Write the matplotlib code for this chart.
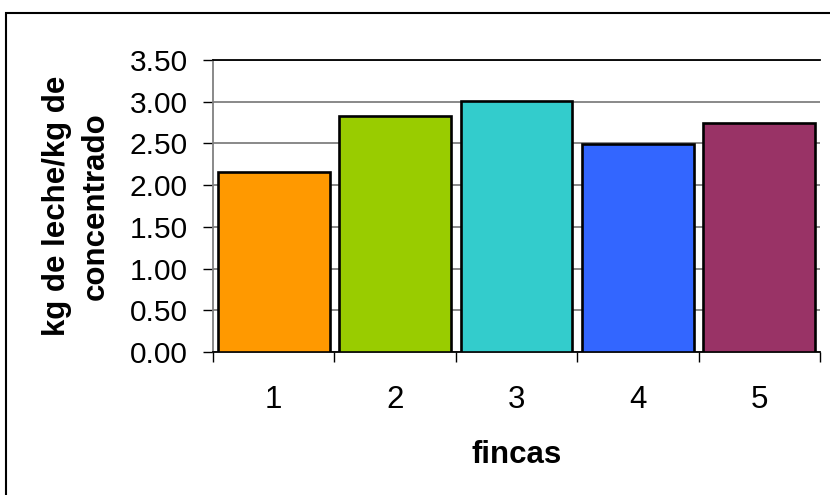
import numpy as np
import matplotlib
matplotlib.use("Agg")
from matplotlib import pyplot as plt
from matplotlib.patches import Rectangle

# datos
fincas = ["1", "2", "3", "4", "5"]
valores = [2.16, 2.83, 3.01, 2.49, 2.74]
colores = ["#FF9900", "#99CC00", "#33CCCC", "#3366FF", "#993366"]
yticks = [0.0, 0.5, 1.0, 1.5, 2.0, 2.5, 3.0, 3.5]

plt.rcParams['font.family'] = ['Liberation Sans', 'DejaVu Sans']

fig = plt.figure(figsize=(8.3, 4.95), dpi=100)
ax = fig.add_axes([0.2566, 0.2889, 0.988 - 0.2566, 0.8788 - 0.2889])

x = np.arange(len(fincas))
ax.bar(x, valores, width=0.92, color=colores, edgecolor="black", linewidth=1.9, zorder=3)

ax.set_xlim(-0.5, len(fincas) - 0.5)
ax.set_ylim(0, 3.5)
ax.set_yticks(yticks)
ax.set_yticklabels(["%.2f" % v for v in yticks])
ax.set_xticks(x)
ax.set_xticklabels(fincas)
ax.set_xticks(np.arange(-0.5, len(fincas)), minor=True)

ax.yaxis.grid(True, color="#808080", linewidth=1.3, zorder=0)
ax.set_axisbelow(True)

ax.tick_params(axis="y", direction="out", length=7, width=1, pad=11, labelsize=21.5, colors="black")
ax.tick_params(axis="x", which="major", length=0, pad=24, labelsize=22.5)
ax.tick_params(axis="x", which="minor", direction="out", length=7, width=1)

ax.spines["right"].set_visible(False)
ax.spines["left"].set_color("#808080")
ax.spines["left"].set_linewidth(1.3)
ax.spines["bottom"].set_linewidth(1.3)
ax.spines["top"].set_linewidth(1.3)

ax.set_ylabel("kg de leche/kg de\nconcentrado", fontsize=22.5, fontweight="bold", labelpad=14, linespacing=1.35)
ax.set_xlabel("fincas", fontsize=22.5, fontweight="bold", labelpad=18)

# marco del grafico
fig.patches.append(Rectangle((6 / 830, -0.2), 1.2, 1.2 - 13 / 495, transform=fig.transFigure,
                             fill=False, edgecolor="black", linewidth=1.5))

fig.savefig("out.png", dpi=100)
